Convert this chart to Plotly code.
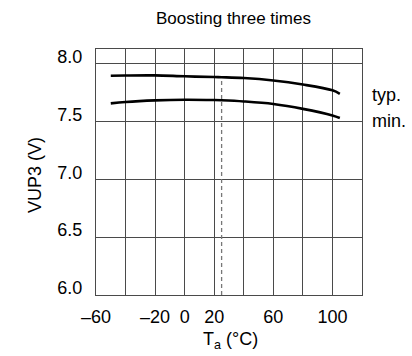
import plotly.graph_objects as go

# data
temps = [-50, -40, -20, 0, 20, 25, 40, 60, 80, 100, 105]
vup3_typ = [7.894, 7.896, 7.897, 7.889, 7.883, 7.881, 7.874, 7.853, 7.818, 7.768, 7.738]
vup3_min = [7.655, 7.667, 7.681, 7.687, 7.684, 7.682, 7.672, 7.650, 7.608, 7.551, 7.529]
ref_temp = 25
x_ticks = [-60, -40, -20, 0, 20, 40, 60, 80, 100, 120]
x_labels = ["\u201360", "", "\u201320", "0", "20", "", "60", "", "100", ""]
y_ticks = [6.0, 6.5, 7.0, 7.5, 8.0]
y_labels = ["6.0", "6.5", "7.0", "7.5", "8.0"]

FONT = "Liberation Sans, Arial, sans-serif"
W, H = 412, 356
L, R, T, B = 96, 50, 49, 61


def py(px):
    # pixel row -> paper y
    return (H - B - px) / (H - T - B)


def pxx(px):
    return (px - L) / (W - L - R)


def label(text, x, y, **kw):
    d = dict(text=text, x=pxx(x), y=py(y), xref="paper", yref="paper",
             xanchor="center", yanchor="middle", showarrow=False,
             font=dict(family=FONT, size=18, color="black"))
    d.update(kw)
    return d


fig = go.Figure()

ref_top = vup3_typ[temps.index(ref_temp)]
fig.add_trace(go.Scatter(
    x=[ref_temp, ref_temp], y=[y_ticks[0], ref_top], mode="lines",
    line=dict(color="#777777", width=1.3, dash="4px,3px"), hoverinfo="skip",
))
fig.add_trace(go.Scatter(
    x=temps, y=vup3_typ, mode="lines", name="typ.",
    line=dict(color="black", width=2.6, shape="spline"),
))
fig.add_trace(go.Scatter(
    x=temps, y=vup3_min, mode="lines", name="min.",
    line=dict(color="black", width=2.6, shape="spline"),
))

axis_common = dict(
    showgrid=True, gridcolor="#4a4a4a", gridwidth=1,
    showline=True, linecolor="#4a4a4a", linewidth=1, mirror=True,
    zeroline=False, ticks="", automargin=False,
    tickfont=dict(family=FONT, size=18, color="black"),
)

fig.update_layout(
    width=W, height=H,
    margin=dict(l=L, r=R, t=T, b=B, autoexpand=False),
    paper_bgcolor="white", plot_bgcolor="white",
    showlegend=False,
    xaxis=dict(range=[-60, 120], tickvals=x_ticks, ticktext=x_labels,
               ticklabelstandoff=5, **axis_common),
    yaxis=dict(range=[6.0, 8.125], tickvals=y_ticks, ticktext=y_labels,
               ticklabelstandoff=9, ticklabelshift=-7, **axis_common),
    annotations=[
        label("Boosting three times", 233, 18, font=dict(family=FONT, size=17, color="black")),
        label("T<sub>a</sub> (\u00b0C)", 230, 340),
        label("VUP3 (V)", 35, 175, textangle=-90),
        label("typ.", 370, 95, xanchor="left"),
        label("min.", 370, 121, xanchor="left"),
    ],
)

# pin the chart to the page corner (no default body margin)
pin = ("document.body.style.margin='0';"
       "var d=document.getElementById('{plot_id}');"
       "d.style.position='absolute';d.style.left='0px';d.style.top='0px';")
fig.write_html("out.html", post_script=pin, config={"displayModeBar": False})
